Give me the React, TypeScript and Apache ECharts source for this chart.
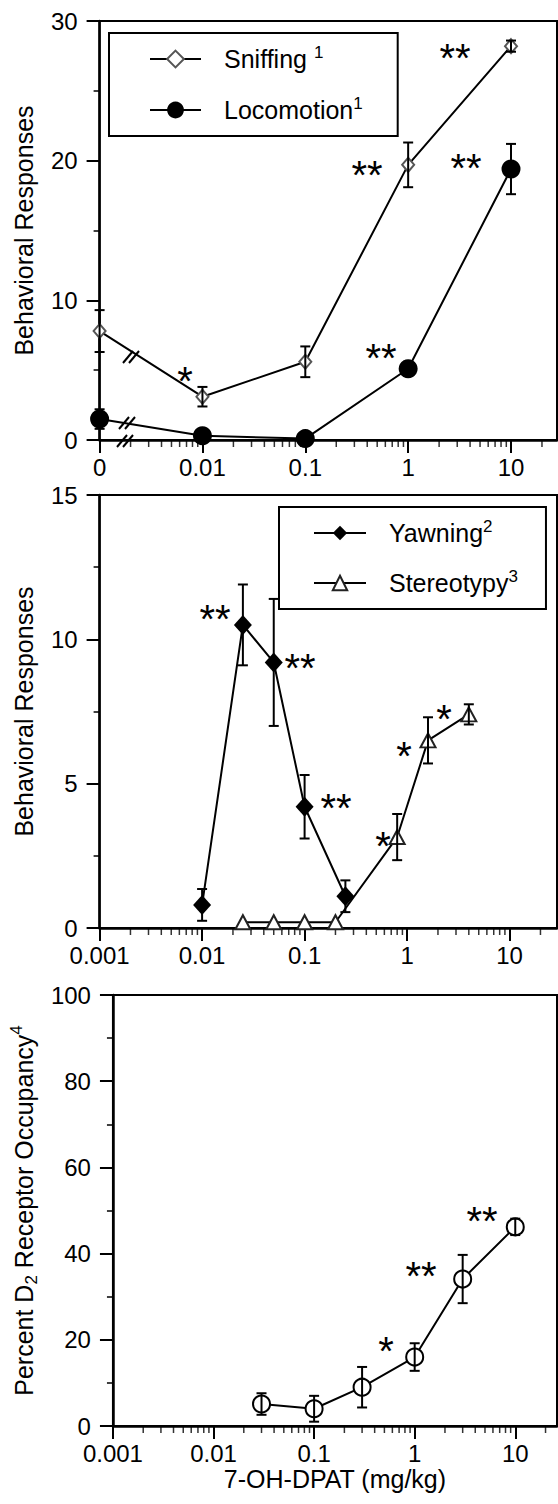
import React, { useEffect, useRef } from "react";
import * as echarts from "echarts";

// ---------- data ----------
const MAJOR_X = [0.001, 0.01, 0.1, 1, 10];
const MINOR_X = [
  0.002, 0.003, 0.004, 0.005, 0.006, 0.007, 0.008, 0.009,
  0.02, 0.03, 0.04, 0.05, 0.06, 0.07, 0.08, 0.09,
  0.2, 0.3, 0.4, 0.5, 0.6, 0.7, 0.8, 0.9,
  2, 3, 4, 5, 6, 7, 8, 9, 20,
];

// Panel A
const SNIFF_X = [0.001, 0.01, 0.1, 1, 10];
const SNIFF_Y = [7.8, 3.1, 5.6, 19.7, 28.2];
const SNIFF_ERR = [1.5, 0.7, 1.1, 1.6, 0.4];
const LOCO_X = [0.001, 0.01, 0.1, 1, 10];
const LOCO_Y = [1.5, 0.3, 0.1, 5.1, 19.4];
const LOCO_ERR = [0.7, 0.3, 0, 0.5, 1.8];

// Panel B
const YAWN_X = [0.01, 0.025, 0.05, 0.1, 0.25];
const YAWN_Y = [0.8, 10.5, 9.2, 4.2, 1.1];
const YAWN_ERR = [0.55, 1.4, 2.2, 1.1, 0.55];
const STEREO_X = [0.025, 0.05, 0.1, 0.2, 0.8, 1.6, 4];
const STEREO_Y = [0.2, 0.2, 0.2, 0.2, 3.15, 6.5, 7.4];
const STEREO_ERR = [0, 0, 0, 0, 0.8, 0.8, 0.35];

// Panel C
const OCC_X = [0.03, 0.1, 0.3, 1, 3, 10];
const OCC_Y = [5.1, 4.0, 9.0, 16.0, 34.1, 46.2];
const OCC_ERR = [2.5, 3.0, 4.7, 3.2, 5.6, 1.9];

const SERIES_NAMES = ["Sniffing", "Locomotion", "Yawning", "Stereotypy"];
const LEGEND_SUPS: Record<string, string> = {
  Sniffing: " {sup|1}",
  Locomotion: "{sup|1}",
  Yawning: "{sup|2}",
  Stereotypy: "{sup|3}",
};

const Y_AXES = [
  { max: 30, interval: 10, name: "Behavioral Responses" },
  { max: 15, interval: 5, name: "Behavioral Responses" },
  { max: 100, interval: 20, name: "Percent D{sub|2} Receptor Occupancy{sup|4}" },
];
const X_TITLE = "7-OH-DPAT (mg/kg)";

// significance marks [x px, y px, text]
const STARS: [number, number, string][] = [
  [185, 372, "*"], [367, 166, "**"], [455, 49, "**"], [466, 159, "**"], [381, 349, "**"],
  [215, 610, "**"], [300, 659, "**"], [336, 799, "**"], [383, 837, "*"], [404, 747, "*"], [444, 710, "*"],
  [386, 1342, "*"], [421, 1267, "**"], [482, 1212, "**"],
];

const FONT = '"Liberation Sans", Arial, Helvetica, sans-serif';

function pairs(xs: number[], ys: number[]) {
  return xs.map((x, i) => [x, ys[i]]);
}
function errData(xs: number[], ys: number[], es: number[]) {
  return xs.map((x, i) => [x, ys[i] - es[i], ys[i] + es[i]]).filter((d, i) => es[i] > 0);
}

const errRender = (params: any, api: any) => {
  const x = api.value(0);
  const lo = api.coord([x, api.value(1)]);
  const hi = api.coord([x, api.value(2)]);
  const w = 5;
  const st = { stroke: "#000", lineWidth: 2 };
  return {
    type: "group",
    children: [
      { type: "line", shape: { x1: lo[0], y1: lo[1], x2: hi[0], y2: hi[1] }, style: st },
      { type: "line", shape: { x1: lo[0] - w, y1: lo[1], x2: lo[0] + w, y2: lo[1] }, style: st },
      { type: "line", shape: { x1: hi[0] - w, y1: hi[1], x2: hi[0] + w, y2: hi[1] }, style: st },
    ],
  };
};

export default function App() {
  const ref = useRef<HTMLDivElement>(null);
  useEffect(() => {
    if (!ref.current) return;
    const chart = echarts.init(ref.current, null, { renderer: "svg" });

    const grids = [
      { left: 96, top: 21, width: 461, height: 419 },
      { left: 98, top: 495, width: 459, height: 433 },
      { left: 101, top: 995, width: 456, height: 431 },
    ];
    const xMax = [28, 29, 26];

    const xAxis = grids.map((g, i) => ({
      type: "log",
      gridIndex: i,
      min: 0.001,
      max: xMax[i],
      logBase: 10,
      axisLine: { lineStyle: { color: "#000", width: 2.5 } },
      axisTick: { show: true, length: 13, lineStyle: { color: "#000", width: 2 }, customValues: MAJOR_X },
      axisLabel: {
        customValues: MAJOR_X,
        margin: 15,
        fontSize: 24,
        color: "#000",
        fontFamily: FONT,
        formatter: (v: number) => {
          const s = String(+Number(v).toPrecision(3));
          if (i === 0 && s === "0.001") return "0";
          return s;
        },
      },
      splitLine: { show: false },
      minorTick: { show: false },
      name: i === 2 ? X_TITLE : "",
      nameLocation: "middle",
      nameGap: 40,
      nameTextStyle: { fontSize: 25, color: "#000", fontFamily: FONT },
    }));

    const yAxis = Y_AXES.map((a, i) => ({
      type: "value",
      gridIndex: i,
      min: 0,
      max: a.max,
      interval: a.interval,
      axisLine: { show: true, lineStyle: { color: "#000", width: 2.5 } },
      axisTick: { show: true, length: 13, lineStyle: { color: "#000", width: 2 } },
      minorTick: { show: true, splitNumber: 2, length: 6, lineStyle: { color: "#000", width: 1.5 } },
      axisLabel: { margin: 22, fontSize: 24, color: "#000", fontFamily: FONT },
      splitLine: { show: false },
      minorSplitLine: { show: false },
      name: a.name,
      nameLocation: "middle",
      nameGap: 52,
      nameTextStyle: {
        fontSize: 25,
        color: "#000",
        fontFamily: FONT,
        lineHeight: 32,
        rich: {
          sub: { fontSize: 17, fontFamily: FONT, color: "#000", verticalAlign: "bottom", lineHeight: 17 },
          sup: { fontSize: 17, fontFamily: FONT, color: "#000", verticalAlign: "top", lineHeight: 17 },
        },
      },
    }));

    const lineBase = {
      type: "line",
      lineStyle: { color: "#000", width: 2 },
      z: 3,
    };

    const series: any[] = [
      {
        ...lineBase, name: "Sniffing", xAxisIndex: 0, yAxisIndex: 0,
        data: pairs(SNIFF_X, SNIFF_Y), symbol: "emptyDiamond", symbolSize: [12, 14],
        itemStyle: { color: "#555", borderWidth: 1 },
      },
      {
        ...lineBase, name: "Locomotion", xAxisIndex: 0, yAxisIndex: 0,
        data: pairs(LOCO_X, LOCO_Y), symbol: "circle", symbolSize: 19,
        itemStyle: { color: "#000" },
      },
      {
        ...lineBase, name: "Yawning", xAxisIndex: 1, yAxisIndex: 1,
        data: pairs(YAWN_X, YAWN_Y), symbol: "diamond", symbolSize: [18, 20],
        itemStyle: { color: "#000" },
      },
      {
        ...lineBase, name: "Stereotypy", xAxisIndex: 1, yAxisIndex: 1,
        data: pairs(STEREO_X, STEREO_Y), symbol: "emptyTriangle", symbolSize: [15, 14],
        itemStyle: { color: "#222", borderWidth: 1.2 },
      },
      {
        ...lineBase, name: "Occupancy", xAxisIndex: 2, yAxisIndex: 2,
        data: pairs(OCC_X, OCC_Y), symbol: "emptyCircle", symbolSize: 17,
        itemStyle: { color: "#000", borderWidth: 1.5 },
      },
    ];

    const errSets = [
      [0, errData(SNIFF_X, SNIFF_Y, SNIFF_ERR)],
      [0, errData(LOCO_X, LOCO_Y, LOCO_ERR)],
      [1, errData(YAWN_X, YAWN_Y, YAWN_ERR)],
      [1, errData(STEREO_X, STEREO_Y, STEREO_ERR)],
      [2, errData(OCC_X, OCC_Y, OCC_ERR)],
    ] as [number, number[][]][];
    errSets.forEach(([gi, d]) => {
      series.push({
        type: "custom", xAxisIndex: gi, yAxisIndex: gi, data: d,
        renderItem: errRender, encode: { x: 0, y: [1, 2] }, z: 4, silent: true,
      });
    });

    [0, 1, 2].forEach((gi) => {
      series.push({
        type: "scatter", xAxisIndex: gi, yAxisIndex: gi,
        data: MINOR_X.filter((v) => v < xMax[gi]).map((v) => [v, 0]),
        symbol: "rect", symbolSize: [1.5, 6], symbolOffset: [0, 4],
        itemStyle: { color: "#000" }, silent: true, z: 1, clip: false,
      });
    });

    const legendCommon = {
      orient: "vertical",
      borderColor: "#000",
      borderWidth: 2,
      itemHeight: 21,
      selectedMode: false,
      formatter: (n: string) => `{sp| }${n}${LEGEND_SUPS[n] || ""}`,
      textStyle: {
        fontSize: 25,
        color: "#000",
        fontFamily: FONT,
        lineHeight: 30,
        rich: {
          sp: { width: 18, fontSize: 25, color: "#000" },
          sup: { fontSize: 17, fontFamily: FONT, color: "#000", verticalAlign: "top", lineHeight: 17 },
        },
      },
    };

    const graphics: any[] = [];
    STARS.forEach(([x, y, t]) => {
      graphics.push({
        type: "text", x, y: y + 9, z: 10,
        style: { text: t, fontSize: 40, fontFamily: FONT, fill: "#000", textAlign: "center", textVerticalAlign: "middle" },
      });
    });
    // axis-break marks
    const breaks: [number, number][] = [[131, 357], [127, 423], [125, 441]];
    breaks.forEach(([cx, cy]) => {
      [-3, 3].forEach((dx) => {
        graphics.push({
          type: "line", z: 10,
          shape: { x1: cx + dx - 5, y1: cy + 6, x2: cx + dx + 5, y2: cy - 6 },
          style: { stroke: "#000", lineWidth: 2 },
        });
      });
    });

    chart.setOption({
      animation: false,
      backgroundColor: "#fff",
      grid: grids.map((g) => ({ ...g, show: true, borderColor: "#000", borderWidth: 2, backgroundColor: "transparent" })),
      xAxis,
      yAxis,
      legend: [
        { ...legendCommon, data: SERIES_NAMES.slice(0, 2), left: 109, top: 33, itemWidth: 51, itemGap: 21, padding: [11, 35, 11, 40] },
        { ...legendCommon, itemHeight: 18, data: SERIES_NAMES.slice(2, 4), left: 279, top: 507, itemWidth: 52, itemGap: 20, padding: [11, 28, 11, 34] },
      ],
      series,
      graphic: graphics,
    });
    return () => chart.dispose();
  }, []);
  return <div ref={ref} style={{ position: "absolute", left: 0, top: 0, width: 558, height: 1504 }} />;
}
